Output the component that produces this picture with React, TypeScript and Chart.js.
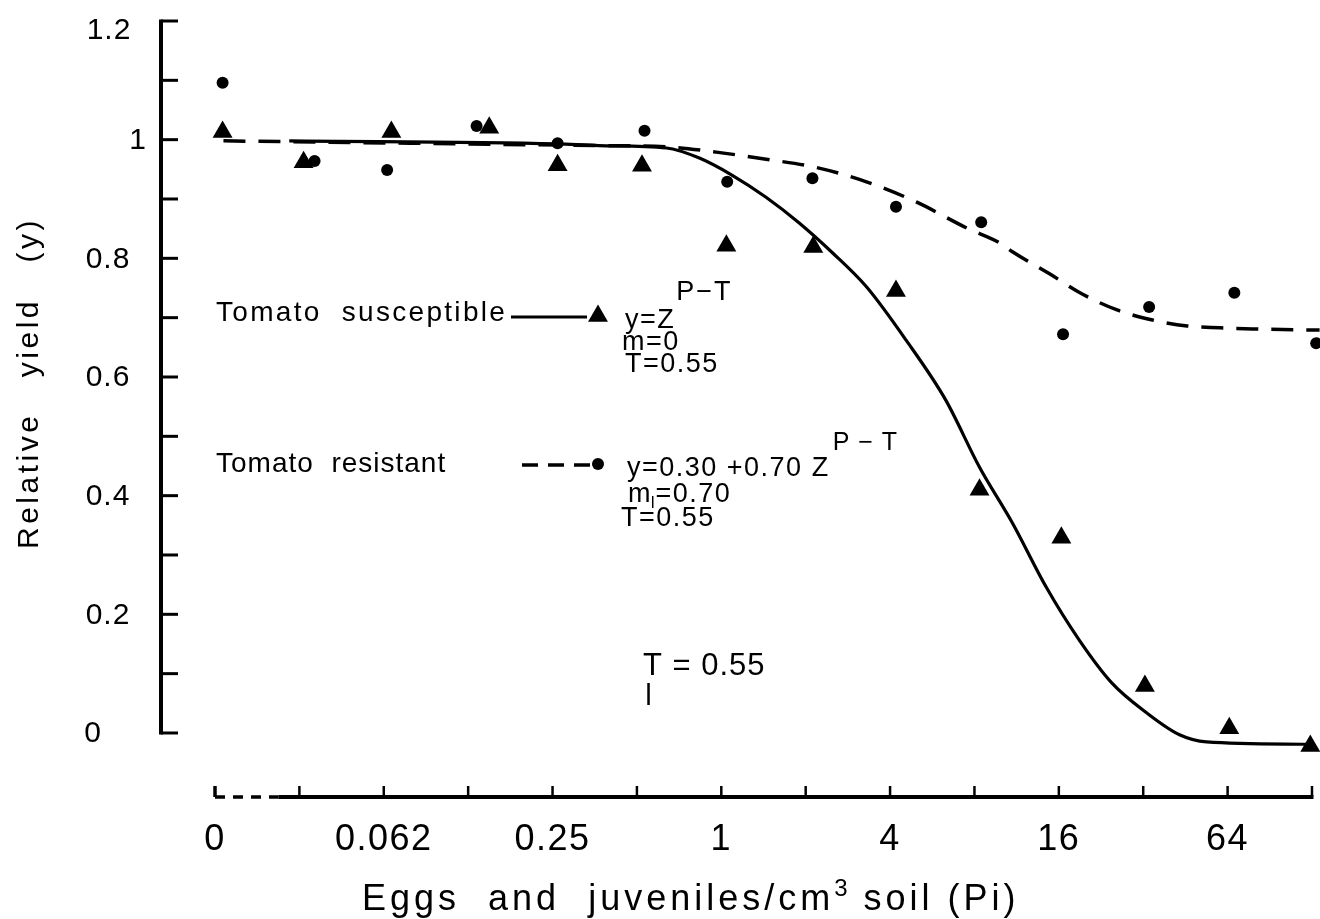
import React, { useEffect, useRef } from 'react';
import { Chart, registerables } from 'chart.js';

Chart.register(...registerables);

const FONT = '"Liberation Sans", Arial, Helvetica, sans-serif';

// x values are log2(Pi); the "0" density is drawn at the -6 position
const xTickValues = [-6, -4, -2, 0, 2, 4, 6];
const xTickLabels = ['0', '0.062', '0.25', '1', '4', '16', '64'];
const xMarkValues = [-5, -4, -3, -2, -1, 0, 1, 2, 3, 4, 5, 6, 7];
const yTickValues = [0, 0.2, 0.4, 0.6, 0.8, 1, 1.2];
const yTickLabels = ['0', '0.2', '0.4', '0.6', '0.8', '1', '1.2'];
const yMarkValues = [0, 0.1, 0.2, 0.3, 0.4, 0.5, 0.6, 0.7, 0.8, 0.9, 1, 1.1, 1.2];

// Tomato susceptible (triangles)
const susceptibleX = [-5.91, -4.95, -3.91, -2.75, -1.94, -0.94, 0.06, 1.09, 2.07, 3.06, 4.03, 5.02, 6.02, 6.98];
const susceptibleY = [1.013, 0.962, 1.013, 1.02, 0.957, 0.956, 0.821, 0.819, 0.745, 0.41, 0.329, 0.079, 0.008, -0.022];

// Tomato resistant (dots)
const resistantX = [-5.91, -4.82, -3.96, -2.9, -1.94, -0.91, 0.07, 1.08, 2.07, 3.08, 4.05, 5.07, 6.08, 7.05];
const resistantY = [1.096, 0.964, 0.949, 1.023, 0.994, 1.015, 0.929, 0.935, 0.887, 0.861, 0.672, 0.718, 0.742, 0.657];

// fitted curves
const susceptibleCurveX = [-5.12, -1.95, -1.45, -0.65, -0.26, 0.13, 0.53, 0.92, 1.32, 1.72, 2.19, 2.66, 3.06, 3.45, 3.85, 4.24, 4.63, 5.04, 5.43, 5.75, 6.94];
const susceptibleCurveY = [0.998, 0.993, 0.99, 0.986, 0.969, 0.94, 0.903, 0.86, 0.809, 0.752, 0.662, 0.561, 0.448, 0.354, 0.246, 0.157, 0.084, 0.034, -0.003, -0.015, -0.019];
const resistantCurveX = [-5.9, -1.45, -0.65, -0.06, 0.53, 1.13, 1.72, 2.31, 2.91, 3.3, 3.45, 3.89, 4.25, 4.69, 5.11, 5.52, 5.91, 6.3, 7.09];
const resistantCurveY = [0.998, 0.99, 0.988, 0.979, 0.967, 0.953, 0.929, 0.895, 0.851, 0.826, 0.811, 0.774, 0.742, 0.713, 0.696, 0.686, 0.683, 0.681, 0.679];

const thresholdT = 0.55;

const X_MIN = -6.64;
const X_MAX = 7.095;
const Y_MIN = -0.1079;
const Y_MAX = 1.2;
const X_BREAK_START = -6;
const X_BREAK_END = -5.25;

// typesetting of the y tick labels (centre x, vertical nudge), as in the original figure
const yLabelCenterX = [93, 108, 108, 108, 108, 138, 109];
const yLabelNudge = [0, 0, 0, 0, 0, 0, 9];

const zip = (xs: number[], ys: number[]) => xs.map((x, i) => ({ x, y: ys[i] }));

function text(ctx: CanvasRenderingContext2D, s: string, x: number, y: number, size: number, ls: number, align: CanvasTextAlign = 'left', baseline: CanvasTextBaseline = 'alphabetic') {
  ctx.font = `${size}px ${FONT}`;
  (ctx as any).letterSpacing = `${ls}px`;
  ctx.textAlign = align;
  ctx.textBaseline = baseline;
  ctx.fillText(s, x, y);
  return ctx.measureText(s).width;
}

const decorPlugin = {
  id: 'decor',
  beforeDraw(chart: any) {
    (chart.ctx as any).letterSpacing = '1.5px';
  },
  afterDraw(chart: any) {
    const ctx: CanvasRenderingContext2D = chart.ctx;
    const xs = chart.scales.x;
    const ys = chart.scales.y;
    const area = chart.chartArea;
    ctx.save();
    ctx.strokeStyle = '#000';
    ctx.fillStyle = '#000';
    ctx.lineCap = 'butt';

    // y axis
    const ax = area.left;
    ctx.lineWidth = 4;
    ctx.beginPath();
    ctx.moveTo(ax, ys.getPixelForValue(Y_MAX) - 1.5);
    ctx.lineTo(ax, ys.getPixelForValue(0) + 1.5);
    ctx.stroke();
    ctx.lineWidth = 3;
    for (const v of yMarkValues) {
      const py = ys.getPixelForValue(v);
      ctx.beginPath();
      ctx.moveTo(ax, py);
      ctx.lineTo(ax + 17, py);
      ctx.stroke();
    }
    yTickValues.forEach((v, i) => {
      const py = ys.getPixelForValue(v) + yLabelNudge[i];
      text(ctx, yTickLabels[i], yLabelCenterX[i], py + 1, 30, 1, 'center', 'middle');
    });

    // x axis with break
    const by = area.bottom;
    const x0 = xs.getPixelForValue(X_BREAK_START);
    const x1 = xs.getPixelForValue(X_BREAK_END);
    const x2 = xs.getPixelForValue(xMarkValues[xMarkValues.length - 1]);
    ctx.lineWidth = 3.5;
    ctx.beginPath();
    ctx.moveTo(x0, by - 11);
    ctx.lineTo(x0, by);
    ctx.stroke();
    ctx.setLineDash([10, 8]);
    ctx.beginPath();
    ctx.moveTo(x0, by);
    ctx.lineTo(x1, by);
    ctx.stroke();
    ctx.setLineDash([]);
    ctx.lineWidth = 4;
    ctx.beginPath();
    ctx.moveTo(x1, by);
    ctx.lineTo(x2 + 1.5, by);
    ctx.stroke();
    ctx.lineWidth = 2.5;
    for (const v of xMarkValues) {
      const px = xs.getPixelForValue(v);
      ctx.beginPath();
      ctx.moveTo(px, by);
      ctx.lineTo(px, by - 11);
      ctx.stroke();
    }

    // axis titles
    ctx.save();
    ctx.translate(38, 383);
    ctx.rotate(-Math.PI / 2);
    text(ctx, 'Relative   yield   (y)', 0, 0, 30, 3.5, 'center');
    ctx.restore();

    let tx = 362;
    const ty = 910;
    tx += text(ctx, 'Eggs  and  juveniles/cm', tx, ty, 36, 4);
    tx += text(ctx, '3', tx, ty - 14, 24, 2);
    text(ctx, ' soil (Pi)', tx, ty, 36, 4);

    // legend / equations
    text(ctx, 'Tomato  susceptible', 216, 321, 28, 2.3);
    ctx.lineWidth = 3;
    ctx.beginPath();
    ctx.moveTo(511, 317);
    ctx.lineTo(587, 317);
    ctx.stroke();
    const tr = 11.5;
    const tcx = 598, tcy = 316;
    ctx.beginPath();
    ctx.moveTo(tcx, tcy - tr);
    ctx.lineTo(tcx + tr * 0.866, tcy + tr / 2);
    ctx.lineTo(tcx - tr * 0.866, tcy + tr / 2);
    ctx.closePath();
    ctx.fill();
    let ex = 625;
    ex += text(ctx, 'y=Z', ex, 328, 27, 1.5);
    text(ctx, 'P\u2212T', ex + 1, 300, 27, 2);
    text(ctx, 'm=0', 622, 350, 27, 1.5);
    text(ctx, 'T=0.55', 625, 372, 27, 1.5);

    text(ctx, 'Tomato  resistant', 216, 472, 28, 1);
    ctx.lineWidth = 3.5;
    ctx.setLineDash([16, 10]);
    ctx.beginPath();
    ctx.moveTo(522, 465);
    ctx.lineTo(590, 465);
    ctx.stroke();
    ctx.setLineDash([]);
    ctx.beginPath();
    ctx.arc(598, 464, 6, 0, Math.PI * 2);
    ctx.fill();
    let rx = 627;
    rx += text(ctx, 'y=0.30 +0.70 Z', rx, 476, 27, 1.5);
    text(ctx, 'P \u2212 T', rx + 3, 450, 25, 1);
    let mx = 628;
    mx += text(ctx, 'm', mx, 502, 27, 1);
    text(ctx, 'I', mx - 1, 508, 16, 0);
    text(ctx, '=0.70', mx + 4, 502, 27, 1.5);
    text(ctx, 'T=0.55', 621, 526, 27, 1.5);

    // threshold marker
    text(ctx, 'T = 0.55', 643, 675, 31, 1);
    const tpx = xs.getPixelForValue(Math.log2(thresholdT));
    ctx.lineWidth = 2.5;
    ctx.beginPath();
    ctx.moveTo(tpx, 683);
    ctx.lineTo(tpx, 705);
    ctx.stroke();

    ctx.restore();
  },
};

export default function App() {
  const ref = useRef<HTMLCanvasElement | null>(null);
  useEffect(() => {
    if (!ref.current) return;
    const chart = new Chart(ref.current, {
      type: 'line',
      data: {
        datasets: [
          {
            data: zip(susceptibleCurveX, susceptibleCurveY),
            borderColor: '#000',
            borderWidth: 3.2,
            pointRadius: 0,
            fill: false,
            cubicInterpolationMode: 'monotone',
            clip: false as any,
          },
          {
            data: zip(resistantCurveX, resistantCurveY),
            borderColor: '#000',
            borderWidth: 3.5,
            borderDash: [22, 13],
            pointRadius: 0,
            fill: false,
            cubicInterpolationMode: 'monotone',
            clip: false as any,
          },
          {
            data: zip(susceptibleX, susceptibleY),
            showLine: false,
            pointStyle: 'triangle',
            pointRadius: 11.5,
            pointBackgroundColor: '#000',
            pointBorderWidth: 0,
            clip: false as any,
          },
          {
            data: zip(resistantX, resistantY),
            showLine: false,
            pointStyle: 'circle',
            pointRadius: 6,
            pointBackgroundColor: '#000',
            pointBorderWidth: 0,
            clip: false as any,
          },
        ] as any,
      },
      options: {
        responsive: false,
        animation: false,
        devicePixelRatio: 1,
        layout: { autoPadding: false, padding: { top: 21, left: 0, right: 0, bottom: 0 } },
        plugins: { legend: { display: false }, tooltip: { enabled: false } },
        events: [],
        scales: {
          x: {
            type: 'linear',
            min: X_MIN,
            max: X_MAX,
            grid: { display: false, drawTicks: false },
            border: { display: false },
            afterFit: (s: any) => { s.height = 122; s.paddingLeft = 0; s.paddingRight = 0; },
            afterBuildTicks: (s: any) => { s.ticks = xTickValues.map((v) => ({ value: v })); },
            ticks: {
              autoSkip: false,
              maxRotation: 0,
              minRotation: 0,
              padding: 21,
              color: '#000',
              font: { family: FONT, size: 36 },
              callback: (v: any) => {
                const i = xTickValues.indexOf(Number(v));
                return i >= 0 ? xTickLabels[i] : '';
              },
            },
          },
          y: {
            type: 'linear',
            min: Y_MIN,
            max: Y_MAX,
            grid: { display: false, drawTicks: false },
            border: { display: false },
            afterFit: (s: any) => { s.width = 161; s.paddingTop = 0; s.paddingBottom = 0; },
            afterBuildTicks: (s: any) => { s.ticks = yTickValues.map((v) => ({ value: v })); },
            ticks: { display: false },
          },
        },
      } as any,
      plugins: [decorPlugin],
    });
    return () => chart.destroy();
  }, []);
  return (
    <div style={{ position: 'absolute', left: 0, top: 0, width: 1320, height: 919, background: '#fff' }}>
      <canvas ref={ref} width={1320} height={919} style={{ display: 'block' }} />
    </div>
  );
}
